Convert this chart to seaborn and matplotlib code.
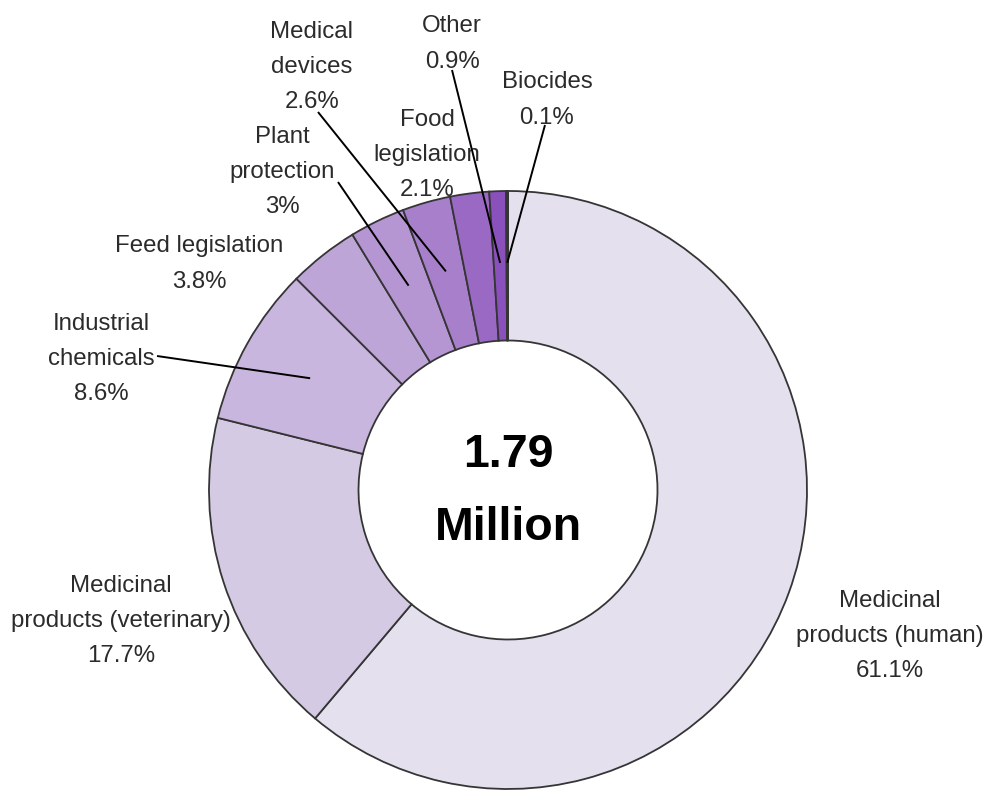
import numpy as np
import matplotlib
matplotlib.use("Agg")
import matplotlib.pyplot as plt
import seaborn as sns

# Share of the 1.79 million records by legislative area
categories = [
    "Medicinal\nproducts (human)",
    "Medicinal\nproducts (veterinary)",
    "Industrial\nchemicals",
    "Feed legislation",
    "Plant\nprotection",
    "Medical\ndevices",
    "Food\nlegislation",
    "Other",
    "Biocides",
]
shares = [61.1, 17.7, 8.6, 3.8, 3.0, 2.6, 2.1, 0.9, 0.1]
pct_labels = ["61.1%", "17.7%", "8.6%", "3.8%", "3%", "2.6%", "2.1%", "0.9%", "0.1%"]
total_text = ["1.79", "Million"]

colors = ["#e4e0ee", "#d5cae4", "#c9b6de", "#bea5d7", "#b595d2",
          "#a87fcb", "#9a69c4", "#8a50bc", "#404040"]

sns.set_theme(style="white")
plt.rcParams["font.family"] = ["Liberation Sans", "DejaVu Sans"]

W, H = 987, 790
fig = plt.figure(figsize=(W / 100, H / 100), dpi=100)
ax = fig.add_axes([0, 0, 1, 1])

cx, cy, R = 508, H - 490, 299
wedges, _ = ax.pie(
    shares, colors=colors, startangle=90, counterclock=False,
    center=(cx, cy), radius=R, frame=True,
    wedgeprops=dict(width=R * 0.5, edgecolor="#353535", linewidth=1.3),
)
ax.set_xlim(0, W)
ax.set_ylim(0, H)
ax.set_aspect("equal")
ax.axis("off")

# label block centres (pixels from top-left) and leader-line start points
label_pos = [
    (890, 636), (121, 621), (101, 359), (199, 264), (282, 172),
    (312, 67), (427, 155), (452, 44), (547, 100),
]
leader_start = {2: (157, 356), 4: (338, 182), 5: (318, 112),
                7: (452, 70), 8: (545, 125)}

txt_color = "#2b2b2b"
for i, (cat, pct) in enumerate(zip(categories, pct_labels)):
    x, y = label_pos[i]
    ax.text(x, H - y, f"{cat}\n{pct}", ha="center", va="center",
            fontsize=17.3, color=txt_color, linespacing=1.78)
    if i in leader_start:
        w = wedges[i]
        mid = np.deg2rad((w.theta1 + w.theta2) / 2)
        ex = cx + 0.76 * R * np.cos(mid)
        ey = cy + 0.76 * R * np.sin(mid)
        sx, sy = leader_start[i]
        ax.plot([sx, ex], [H - sy, ey], color="black", lw=1.4,
                solid_capstyle="butt", zorder=5)

ax.text(cx, H - 455, total_text[0], ha="center", va="center",
        fontsize=33.5, fontweight="bold", color="black")
ax.text(cx, H - 528, total_text[1], ha="center", va="center",
        fontsize=33.5, fontweight="bold", color="black")

fig.savefig("out.png", dpi=100, facecolor="white")
